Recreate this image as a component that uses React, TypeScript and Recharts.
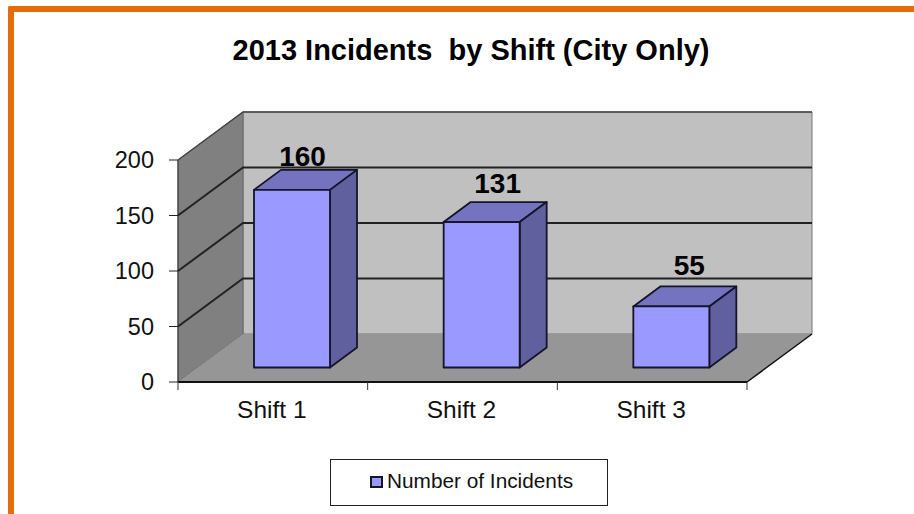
import { Bar, BarChart, CartesianGrid, LabelList, Legend, ReferenceArea, XAxis, YAxis } from 'recharts';

const shifts = ['Shift 1', 'Shift 2', 'Shift 3'];
const incidents = [160, 131, 55];
const yTicks = [0, 50, 100, 150, 200];
const seriesName = 'Number of Incidents';

const chartData = shifts.map((shift, i) => ({ shift, incidents: incidents[i] }));

const FONT = '"Liberation Sans", Arial, sans-serif';
const INK = '#111111';

// fake 3d: how far the back wall sits from the front plane
const WALL_DX = 65;
const WALL_DY = -48;
// bars stand part way into the floor, with their own depth
const BAR_SHIFT_X = 19;
const BAR_SHIFT_Y = -14.5;
const BAR_DX = 27;
const BAR_DY = -20;
// Excel placed these data labels by hand, they do not follow the bars exactly
const LABEL_NUDGE = [
  { dx: 10.5, lift: 24 },
  { dx: 16, lift: 29 },
  { dx: 18, lift: 31 }
];

const points = (list: number[][]) => list.map((p) => p.join(',')).join(' ');

function Walls({ x, y, width, height }: any) {
  const bottom = y + height;
  const right = x + width;
  return (
    <g>
      <polygon
        points={points([
          [x + WALL_DX, y + WALL_DY],
          [right + WALL_DX, y + WALL_DY],
          [right + WALL_DX, bottom + WALL_DY],
          [x + WALL_DX, bottom + WALL_DY]
        ])}
        fill="#c0c0c0"
        stroke="#777777"
      />
      <polygon
        points={points([
          [x, y],
          [x + WALL_DX, y + WALL_DY],
          [x + WALL_DX, bottom + WALL_DY],
          [x, bottom]
        ])}
        fill="#808080"
        stroke="#666666"
      />
      <polygon
        points={points([
          [x, bottom],
          [right, bottom],
          [right + WALL_DX, bottom + WALL_DY],
          [x + WALL_DX, bottom + WALL_DY]
        ])}
        fill="#969696"
      />
      <line x1={right} y1={bottom} x2={right + WALL_DX} y2={bottom + WALL_DY} stroke={INK} strokeWidth={1.5} />
    </g>
  );
}

function GridLine({ x1, x2, y1, index }: any) {
  // the bottom tick is the floor edge, the walls already draw it
  if (index === 0) return <g />;
  const isTop = index === yTicks.length - 1;
  return (
    <g>
      <polyline
        points={points([
          [x1, y1],
          [x1 + WALL_DX, y1 + WALL_DY],
          [x2 + WALL_DX, y1 + WALL_DY]
        ])}
        fill="none"
        stroke={isTop ? '#444444' : '#222222'}
        strokeWidth={isTop ? 1.5 : 2}
      />
    </g>
  );
}

function Bar3D({ x, y, width, height }: any) {
  const left = x + BAR_SHIFT_X;
  const top = y + BAR_SHIFT_Y;
  const right = left + width;
  const bottom = top + height;
  return (
    <g stroke="#14142a" strokeWidth={1.8} strokeLinejoin="round">
      <polygon
        points={points([
          [left, top],
          [left + BAR_DX, top + BAR_DY],
          [right + BAR_DX, top + BAR_DY],
          [right, top]
        ])}
        fill="#7373bf"
      />
      <polygon
        points={points([
          [right, top],
          [right + BAR_DX, top + BAR_DY],
          [right + BAR_DX, bottom + BAR_DY],
          [right, bottom]
        ])}
        fill="#60609f"
      />
      <rect x={left} y={top} width={width} height={height} fill="#9999ff" />
    </g>
  );
}

function BarValue({ x, y, width, value, index }: any) {
  const nudge = LABEL_NUDGE[index];
  return (
    <text
      x={x + width / 2 + BAR_SHIFT_X + nudge.dx}
      y={y + BAR_SHIFT_Y - nudge.lift}
      textAnchor="middle"
      fontFamily={FONT}
      fontSize={28}
      fontWeight={700}
      fill="#000000"
    >
      {value}
    </text>
  );
}

function ShiftTick({ x, y, width, index, visibleTicksCount, payload }: any) {
  // ticks sit between the categories, not under them
  const band = width / visibleTicksCount;
  return (
    <g>
      <line x1={x - band / 2} x2={x - band / 2} y1={y} y2={y + 8} stroke="#333333" />
      {index === visibleTicksCount - 1 && <line x1={x + band / 2} x2={x + band / 2} y1={y} y2={y + 8} stroke="#333333" />}
      <text x={x - 1} y={y + 36} textAnchor="middle" fontFamily={FONT} fontSize={24.5} fill={INK}>
        {payload.value}
      </text>
    </g>
  );
}

function LegendBox() {
  return (
    <div
      style={{
        boxSizing: 'border-box',
        width: 278,
        height: 47,
        border: '1.5px solid #222222',
        background: '#ffffff',
        position: 'relative',
        fontFamily: FONT,
        fontSize: 20.8,
        color: INK
      }}
    >
      <span
        style={{
          position: 'absolute',
          left: 39,
          top: 16,
          width: 13,
          height: 12,
          boxSizing: 'border-box',
          background: '#9999ff',
          border: '2px solid #14142a'
        }}
      />
      <span style={{ position: 'absolute', left: 56, top: 9, lineHeight: '24px', whiteSpace: 'nowrap' }}>{seriesName}</span>
    </div>
  );
}

export default function App() {
  return (
    <div style={{ position: 'absolute', left: 0, top: 0, width: 914, height: 514, background: '#ffffff', overflow: 'hidden' }}>
      <div
        style={{
          position: 'absolute',
          left: 8,
          top: 6,
          width: 906,
          height: 508,
          boxSizing: 'border-box',
          borderTop: '6.5px solid #e46c0a',
          borderLeft: '6px solid #e46c0a',
          borderTopLeftRadius: 2
        }}
      />
      <div
        style={{
          position: 'absolute',
          left: 0,
          width: 942,
          top: 32,
          textAlign: 'center',
          fontFamily: FONT,
          fontSize: 29,
          fontWeight: 700,
          lineHeight: '36px',
          color: '#000000',
          whiteSpace: 'pre'
        }}
      >
        2013 Incidents  by Shift (City Only)
      </div>
      <div style={{ position: 'absolute', left: 0, top: 0 }}>
        <BarChart width={914} height={514} data={chartData} margin={{ top: 160, right: 167, bottom: 102, left: 128 }}>
          <ReferenceArea y1={0} y2={200} shape={<Walls />} ifOverflow="visible" fill="none" stroke="none" zIndex={-200} />
          <CartesianGrid vertical={false} horizontal={(props: any) => <GridLine {...props} />} zIndex={-100} />
          <Bar dataKey="incidents" name={seriesName} barSize={76} shape={<Bar3D />} isAnimationActive={false}>
            <LabelList dataKey="incidents" content={<BarValue />} />
          </Bar>
          <XAxis
            dataKey="shift"
            height={30}
            tickSize={0}
            tickMargin={0}
            axisLine={{ stroke: INK, strokeWidth: 2 }}
            tick={<ShiftTick />}
            interval={0}
          />
          <YAxis
            width={50}
            domain={[0, 200]}
            ticks={yTicks}
            tickSize={9}
            tickMargin={15}
            axisLine={{ stroke: '#333333' }}
            tickLine={{ stroke: '#222222' }}
            tick={{ fontFamily: FONT, fontSize: 23.5, fill: INK }}
          />
          <Legend
            layout="horizontal"
            verticalAlign="middle"
            content={<LegendBox />}
            wrapperStyle={{ left: 330, top: 459, width: 278, height: 47 }}
          />
        </BarChart>
      </div>
    </div>
  );
}
